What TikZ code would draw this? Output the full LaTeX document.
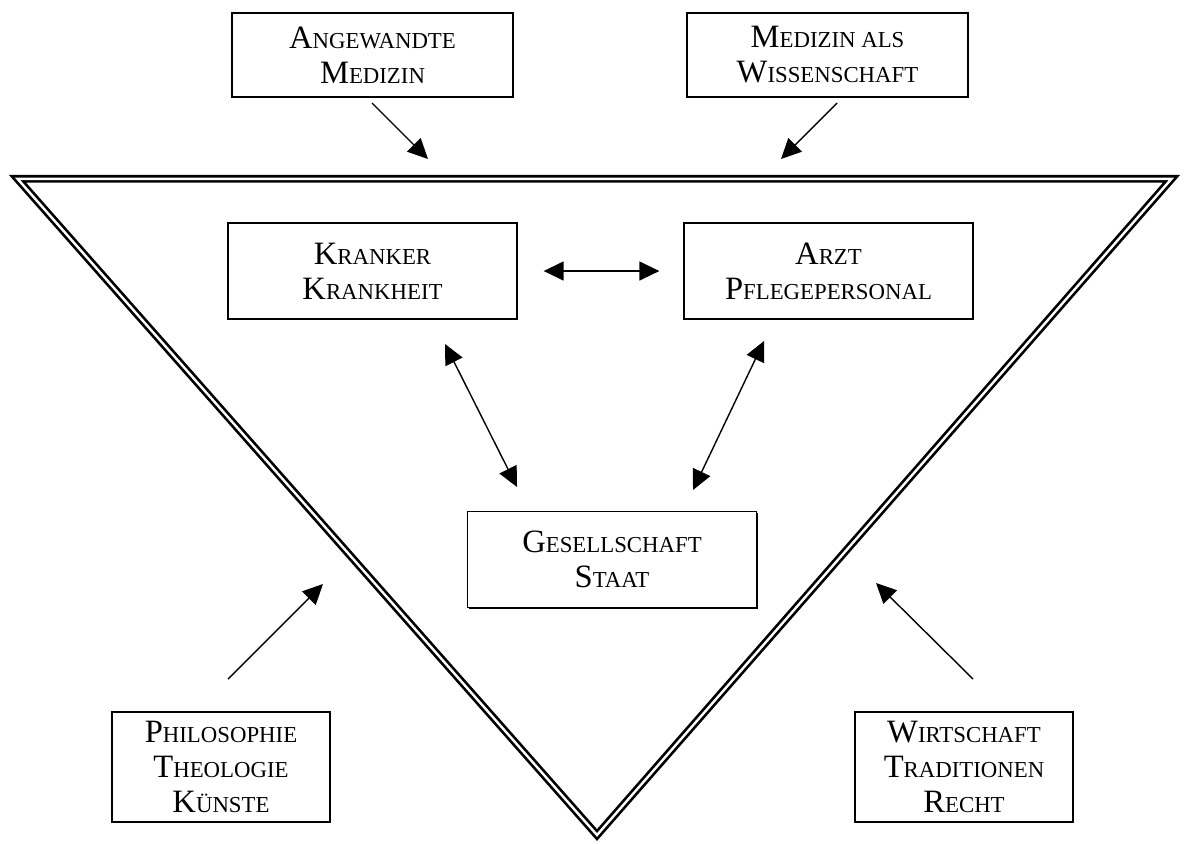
\documentclass[tikz,border=0pt]{standalone}
\usepackage{fontspec}
\setmainfont{Liberation Serif}
\usetikzlibrary{arrows.meta,shadows}

% fake small caps: big initial, rest smaller
\newcommand{\kap}[2]{#1{\fontsize{11.4}{17.5}\selectfont #2}}

\begin{document}
\begin{tikzpicture}[x=0.5pt, y=-0.5pt, >={Triangle[length=10pt,width=9.5pt]},
  box/.style={draw, line width=0.65pt, fill=white, align=center, inner sep=0pt,
    font=\fontsize{16.3}{17.5}\selectfont,
    drop shadow={shadow xshift=0.7pt, shadow yshift=-0.7pt, opacity=1, fill=black}},
  boxtop/.style={box, minimum width=140.5pt, minimum height=42pt},
  boxmid/.style={box, minimum width=144.5pt, minimum height=48pt},
  boxlow/.style={box, minimum width=109pt, minimum height=55pt},
  e/.style={->, line width=0.7pt},
  ee/.style={<->, line width=0.7pt}]

\useasboundingbox (0,0) rectangle (1186,843);

% the big double triangle
\draw[double, double distance=1.2pt, line width=1.35pt, line join=miter]
  (17.5,178.8) -- (1171.5,178.8) -- (597,835) -- cycle;

\node[boxtop] (am) at (372.5,55) {\kap{A}{NGEWANDTE}\\\kap{M}{EDIZIN}};
\node[boxtop] (mw) at (827.5,55) {\kap{M}{EDIZIN ALS}\\\kap{W}{ISSENSCHAFT}};
\node[boxmid] (kk) at (372.5,271) {\kap{K}{RANKER}\\\kap{K}{RANKHEIT}};
\node[boxmid] (ap) at (828.5,271) {\kap{A}{RZT}\\\kap{P}{FLEGEPERSONAL}};
\node[boxmid] (gs) at (612,559.5) {\kap{G}{ESELLSCHAFT}\\\kap{S}{TAAT}};
\node[boxlow] (pt) at (221,767) {\kap{P}{HILOSOPHIE}\\\kap{T}{HEOLOGIE}\\\kap{K}{ÜNSTE}};
\node[boxlow] (wt) at (964,767) {\kap{W}{IRTSCHAFT}\\\kap{T}{RADITIONEN}\\\kap{R}{ECHT}};

\coordinate (am1) at (372,103);
\coordinate (am2) at (428,159);
\coordinate (mw1) at (837,103);
\coordinate (mw2) at (781,159);
\coordinate (kk1) at (445,344);
\coordinate (gs1) at (517,487);
\coordinate (ap1) at (764,341);
\coordinate (gs2) at (693,490);
\coordinate (pt1) at (228,679);
\coordinate (pt2) at (323,584);
\coordinate (wt1) at (973,679);
\coordinate (wt2) at (876,583);

\draw[e] (am1) -- (am2);
\draw[e] (mw1) -- (mw2);
\draw[ee, shorten <=13pt, shorten >=12pt] (kk.east) -- (ap.west);
\draw[ee] (kk1) -- (gs1);
\draw[ee] (ap1) -- (gs2);
\draw[e] (pt1) -- (pt2);
\draw[e] (wt1) -- (wt2);
\end{tikzpicture}
\end{document}
